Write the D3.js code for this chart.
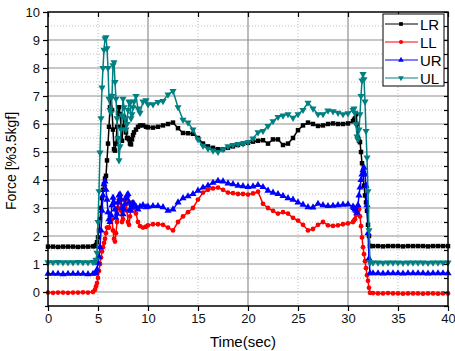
<!DOCTYPE html>
<head>
<meta charset="utf-8">
<script src="https://cdn.jsdelivr.net/npm/d3@7"></script>
<style>
    body { margin: 0; background: #fff; }
    text { font-family: Arial, "Liberation Sans", sans-serif; }
</style>
</head>
<body>
<script>

    // time axis (sec)
    var time = [0, 0.5, 1, 1.5, 2, 2.5, 3, 3.5, 4, 4.5,
        4.7,
        4.8, 4.9, 5.0, 5.1, 5.2, 5.3, 5.4, 5.5, 5.6, 5.7,
        5.8, 5.9, 6.0, 6.1, 6.2, 6.3, 6.4, 6.5, 6.6, 6.7,
        6.8, 6.9, 7.0, 7.1, 7.2, 7.3, 7.4, 7.5, 7.6, 7.7,
        7.8, 7.9, 8.0, 8.1, 8.2, 8.3, 8.4, 8.5, 8.6,
        8.8, 9.0, 9.2, 9.5, 9.8,
        10, 10.5, 11, 11.5, 12, 12.5, 13, 13.5, 14, 14.5,
        15, 15.5, 16, 16.5, 17, 17.5, 18, 18.5, 19, 19.5,
        20, 20.5, 21, 21.5, 22, 22.5, 23, 23.5, 24, 24.5,
        25, 25.5, 26, 26.5, 27, 27.5, 28, 28.5, 29, 29.5,
        30, 30.5,
        30.6, 30.7, 30.8, 30.9, 31.0, 31.1, 31.2, 31.3, 31.4, 31.5,
        31.6, 31.7, 31.8, 31.9, 32.0, 32.1, 32.2,
        32.5, 33, 33.5, 34, 34.5, 35, 35.5, 36, 36.5, 37, 37.5, 38, 38.5, 39, 39.5, 40];

    var lr = [1.62, 1.62, 1.61, 1.62, 1.62, 1.62, 1.61, 1.62, 1.62, 1.63,
        1.64,
        1.68, 1.78, 1.95, 2.2, 2.6, 3.0, 3.35, 3.65, 3.85, 4.05,
        4.15, 4.7, 5.3, 5.9, 6.6, 7.0, 6.5, 5.8, 5.1, 5.05,
        5.3, 5.9, 6.4, 6.6, 6.35, 5.9, 5.4, 5.9, 6.25, 6.15,
        5.7, 5.5, 5.5, 5.45, 5.3, 5.27, 5.45, 5.6, 5.7,
        5.8, 5.9, 5.95, 5.95, 5.9,
        5.88, 5.87, 5.9, 5.95, 6.0, 6.05, 5.85, 5.68, 5.67, 5.65,
        5.5, 5.3, 5.2, 5.15, 5.1, 5.1, 5.15, 5.2, 5.25, 5.3,
        5.33, 5.37, 5.4, 5.42, 5.3, 5.45, 5.45, 5.25, 5.3, 5.5,
        5.78, 5.95, 6.05, 6.0, 5.93, 5.95, 6.0, 6.02, 6.0, 6.0,
        6.02, 6.1,
        6.15, 6.2, 6.35, 6.0, 5.5, 5.4, 5.35, 5.0, 4.6, 4.25,
        3.8, 3.45, 3.2, 2.9, 2.4, 2.0, 1.64,
        1.64, 1.64, 1.63, 1.64, 1.64, 1.64, 1.63, 1.64, 1.64, 1.64, 1.64, 1.63, 1.64, 1.64, 1.64, 1.64];

    var ll = [-0.02, -0.03, -0.02, -0.02, -0.03, -0.02, -0.02, -0.01, -0.02, 0.0,
        0.08,
        0.2, 0.32, 0.5, 0.75, 1.0, 1.23, 1.45, 1.6, 1.75, 1.9,
        2.1, 2.3, 2.3, 2.3, 2.5, 2.7, 2.6, 2.2, 1.9, 1.8,
        2.1, 2.5, 3.0, 3.3, 3.35, 2.9, 2.5, 2.6, 3.0, 3.3,
        3.3, 2.9, 2.5, 2.4, 2.7, 3.1, 3.2, 3.1, 3.0,
        2.8, 2.5, 2.35, 2.3, 2.33,
        2.38, 2.42, 2.42, 2.4, 2.3, 2.2, 2.5, 2.7, 2.85, 3.0,
        3.3, 3.55, 3.65, 3.7, 3.73, 3.65, 3.55, 3.53, 3.5, 3.5,
        3.48, 3.52, 3.58, 3.15, 3.0, 2.9, 2.8, 2.85, 2.8, 2.65,
        2.55, 2.4, 2.2, 2.25, 2.4, 2.5, 2.38, 2.36, 2.38, 2.42,
        2.45, 2.5,
        2.55, 2.6, 2.75, 2.9, 3.05, 2.95, 2.7, 2.35, 1.95, 1.6,
        1.35, 1.1, 0.85, 0.6, 0.4, 0.15, -0.03,
        -0.04, -0.05, -0.05, -0.04, -0.05, -0.05, -0.06, -0.05, -0.05, -0.05, -0.06, -0.05, -0.05, -0.06, -0.05, -0.05];

    var ur = [0.65, 0.65, 0.65, 0.64, 0.65, 0.65, 0.65, 0.65, 0.64, 0.65,
        0.66,
        0.7, 0.8, 1.05, 1.25, 1.6, 2.2, 2.9, 3.45, 3.85, 3.95,
        3.65, 3.3, 2.85, 2.6, 2.5, 2.75, 3.1, 3.37, 3.2, 2.95,
        2.65, 2.8, 3.2, 3.45, 3.49, 3.3, 3.0, 2.78, 2.95, 3.15,
        3.35, 3.45, 3.5, 3.2, 2.95, 2.9, 3.05, 3.18, 3.15,
        3.05, 2.95, 3.05, 3.1, 3.03,
        3.05, 3.07, 3.07, 3.03, 2.9, 2.95, 3.2, 3.35, 3.42, 3.5,
        3.62, 3.73, 3.8, 3.9, 3.97, 3.95, 3.88, 3.85, 3.8, 3.78,
        3.75, 3.77, 3.82, 3.75, 3.62, 3.55, 3.5, 3.43, 3.35, 3.3,
        3.2, 3.12, 3.03, 3.02, 3.15, 3.1, 3.07, 3.08, 3.1, 3.12,
        3.13, 3.05,
        3.0, 2.95, 2.9, 2.83, 3.1, 3.45, 3.73, 4.0, 4.2, 4.35,
        4.44, 4.2, 3.8, 3.1, 2.1, 1.2, 0.67,
        0.67, 0.67, 0.66, 0.67, 0.67, 0.67, 0.66, 0.67, 0.67, 0.67, 0.67, 0.66, 0.67, 0.67, 0.67, 0.67];

    var ul = [1.06, 1.06, 1.07, 1.06, 1.06, 1.06, 1.07, 1.06, 1.06, 1.07,
        1.08,
        1.15, 1.4, 2.5, 3.6, 4.98, 6.2, 7.3, 8.0, 8.65, 9.05,
        9.1, 8.7, 8.0, 6.9, 6.5, 6.4, 7.0, 8.1, 8.2, 7.5,
        6.9, 6.2, 5.5, 4.7, 5.2, 5.8, 6.3, 6.9, 6.6, 6.2,
        5.8, 6.0, 6.5, 6.8, 6.75, 6.2, 6.35, 6.6, 6.8,
        7.0, 6.55, 6.4, 6.8, 6.85,
        6.7, 6.7, 6.78, 6.82, 7.05, 7.18, 6.6, 6.15, 6.05, 5.8,
        5.45, 5.22, 5.12, 5.05, 5.0, 5.1, 5.2, 5.25, 5.28, 5.3,
        5.35, 5.48, 5.7, 5.75, 5.93, 6.1, 6.25, 6.3, 6.35, 6.22,
        6.35, 6.5, 6.76, 6.55, 6.35, 6.35, 6.48, 6.45, 6.4, 6.35,
        6.38, 6.5,
        6.55, 6.4, 6.0, 5.55, 5.45, 5.8, 6.35, 7.0, 7.55, 7.78,
        7.6, 6.8, 5.75, 4.8, 3.6, 2.2, 1.05,
        1.05, 1.05, 1.04, 1.05, 1.05, 1.05, 1.04, 1.05, 1.05, 1.05, 1.05, 1.04, 1.05, 1.05, 1.05, 1.05];

    var seriesNames = ["LR", "LL", "UR", "UL"];
    var seriesColors = ["#000000", "#ff0000", "#0000ff", "#008080"];
    var seriesValues = [lr, ll, ur, ul];

    var xTicks = [0, 5, 10, 15, 20, 25, 30, 35, 40];
    var yTicks = [0, 1, 2, 3, 4, 5, 6, 7, 8, 9, 10];
    var yMinor = [-0.5, 0.5, 1.5, 2.5, 3.5, 4.5, 5.5, 6.5, 7.5, 8.5, 9.5];

    var svg = d3.select("body").append("svg")
        .attr("width", 455)
        .attr("height", 351);

    var x = d3.scaleLinear().domain([0, 40]).range([48, 448]);
    var y = d3.scaleLinear().domain([-0.5, 10]).range([306, 12]);

    // grid
    var grid = svg.append("g");
    grid.selectAll(".ymin").data(yMinor.slice(1)).enter().append("line")
        .attr("x1", 48).attr("x2", 448)
        .attr("y1", function(d) { return y(d); })
        .attr("y2", function(d) { return y(d); })
        .style("stroke", "#c0c0c0").style("stroke-dasharray", "1,2");
    grid.selectAll(".xmin").data([5, 15, 25, 35]).enter().append("line")
        .attr("y1", 12).attr("y2", 306)
        .attr("x1", function(d) { return x(d); })
        .attr("x2", function(d) { return x(d); })
        .style("stroke", "#c0c0c0").style("stroke-dasharray", "1,2");
    grid.selectAll(".ymaj").data(yTicks.slice(0, 10)).enter().append("line")
        .attr("x1", 48).attr("x2", 448)
        .attr("y1", function(d) { return y(d); })
        .attr("y2", function(d) { return y(d); })
        .style("stroke", "#909090").style("stroke-width", 1.2);
    grid.selectAll(".xmaj").data([10, 20, 30]).enter().append("line")
        .attr("y1", 12).attr("y2", 306)
        .attr("x1", function(d) { return x(d); })
        .attr("x2", function(d) { return x(d); })
        .style("stroke", "#909090").style("stroke-width", 1.2);

    // series
    var symbols = [d3.symbolSquare, d3.symbolCircle, d3.symbolTriangle, d3.symbolTriangle];
    var symSizes = [20, 18, 22, 22];

    var line = d3.line()
        .x(function(d, i) { return x(time[i]); })
        .y(function(d) { return y(d); });

    seriesValues.forEach(function(vals, k) {
        var g = svg.append("g");
        g.append("path")
            .attr("d", line(vals))
            .style("fill", "none")
            .style("stroke", seriesColors[k])
            .style("stroke-width", 1.5);
        g.selectAll("path.m").data(vals).enter().append("path")
            .attr("class", "m")
            .attr("d", d3.symbol().type(symbols[k]).size(symSizes[k]))
            .attr("transform", function(d, i) {
                return "translate(" + x(time[i]) + "," + y(d) + ")" + (k === 3 ? " rotate(180)" : "");
            })
            .style("fill", seriesColors[k]);
    });

    // axes
    svg.append("g").attr("transform", "translate(0,306)")
        .call(d3.axisBottom(x).tickValues(xTicks).tickSize(5).tickPadding(3));
    svg.append("g").attr("transform", "translate(48,0)")
        .call(d3.axisLeft(y).tickValues(yTicks).tickSize(5).tickPadding(3));
    svg.append("g").attr("transform", "translate(48,0)")
        .call(d3.axisLeft(y).tickValues(yMinor).tickSize(3).tickFormat(""));
    svg.append("g").attr("transform", "translate(0,12)")
        .call(d3.axisTop(x).tickValues(xTicks).tickSize(-5).tickFormat(""));
    svg.append("g").attr("transform", "translate(448,0)")
        .call(d3.axisRight(y).tickValues(yTicks.concat(yMinor)).tickSize(-4).tickFormat(""));

    svg.selectAll(".domain").remove();
    svg.selectAll(".tick line").style("stroke", "#000").style("stroke-width", 1.2);
    svg.selectAll(".tick text").style("font-size", "13px").style("fill", "#111")
        .style("font-family", "Arial, 'Liberation Sans', sans-serif");

    svg.append("rect")
        .attr("x", 48).attr("y", 12).attr("width", 400).attr("height", 294)
        .style("fill", "none").style("stroke", "#000").style("stroke-width", 1.5);

    // axis titles
    svg.append("text")
        .attr("transform", "translate(16,161) rotate(-90)")
        .style("text-anchor", "middle")
        .style("font-size", "14px")
        .text("Force [%3.5kgf]");
    svg.append("text")
        .attr("x", 243).attr("y", 347)
        .style("text-anchor", "middle")
        .style("font-size", "15px")
        .text("Time(sec)");

    // legend
    var leg = svg.append("g");
    leg.append("rect")
        .attr("x", 383).attr("y", 14).attr("width", 61).attr("height", 72)
        .style("fill", "#fff").style("stroke", "#000").style("stroke-width", 1);
    seriesNames.forEach(function(name, k) {
        var ly = 24 + k * 18;
        leg.append("line")
            .attr("x1", 385).attr("x2", 418).attr("y1", ly).attr("y2", ly)
            .style("stroke", seriesColors[k]).style("stroke-width", 1);
        leg.append("path")
            .attr("d", d3.symbol().type(symbols[k]).size(14))
            .attr("transform", "translate(401," + ly + ")" + (k === 3 ? " rotate(180)" : ""))
            .style("fill", seriesColors[k]);
        leg.append("text")
            .attr("x", 420).attr("y", ly + 5.5)
            .style("font-size", "15px")
            .text(name);
    });

</script>
</body>
